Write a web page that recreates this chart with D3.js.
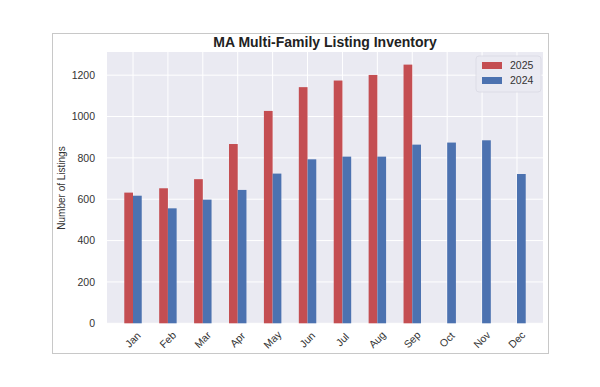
<!DOCTYPE html>
<html><head><meta charset="utf-8">
<script src="https://cdn.jsdelivr.net/npm/d3@7"></script>
<style>body{margin:0;background:#fff;font-family:"Liberation Sans",Arial,sans-serif;}</style>
</head><body><svg id="c" width="600" height="387"></svg>
<script>
const months = ["Jan","Feb","Mar","Apr","May","Jun","Jul","Aug","Sep","Oct","Nov","Dec"];
const values2025 = [632,653,697,867,1027,1142,1174,1201,1251,null,null,null];
const values2024 = [617,556,598,645,724,793,806,806,864,874,885,722];
const seriesNames = ["2025","2024"];
const seriesColors = ["#C44E52","#4C72B0"];
const yTicks = [0,200,400,600,800,1000,1200];

const svg = d3.select("#c");
// outer frame
svg.append("rect").attr("x",52.5).attr("y",33.5).attr("width",496).attr("height",320)
  .attr("fill","#fff").attr("stroke","#c8c8c8");

const L=107,R=543,T=52,B=323.3;
const x = d3.scaleLinear().domain([-0.745,11.745]).range([L,R]);
const y = d3.scaleLinear().domain([0,1312]).range([B,T]);

svg.append("rect").attr("x",L).attr("y",T).attr("width",R-L).attr("height",B-T).attr("fill","#EAEAF2");

// grid
svg.append("g").selectAll("line").data(yTicks).join("line")
  .attr("x1",L).attr("x2",R).attr("y1",d=>y(d)).attr("y2",d=>y(d))
  .attr("stroke","#fff").attr("stroke-width",1);
svg.append("g").selectAll("line").data(months).join("line")
  .attr("x1",(d,i)=>x(i)).attr("x2",(d,i)=>x(i)).attr("y1",T).attr("y2",B)
  .attr("stroke","#fff").attr("stroke-width",1);

const bw = x(0.25)-x(0);
const g = svg.append("g");
g.selectAll(".r").data(values2025.map((v,i)=>({v,i})).filter(d=>d.v!=null)).join("rect")
  .attr("x",d=>x(d.i-0.25)).attr("width",bw).attr("y",d=>y(d.v)).attr("height",d=>y(0)-y(d.v))
  .attr("fill",seriesColors[0]);
g.selectAll(".b").data(values2024.map((v,i)=>({v,i}))).join("rect")
  .attr("x",d=>x(d.i)).attr("width",bw).attr("y",d=>y(d.v)).attr("height",d=>y(0)-y(d.v))
  .attr("fill",seriesColors[1]);

// y axis labels
const ya = d3.axisLeft(y).tickValues(yTicks).tickFormat(d3.format("d")).tickSize(0).tickPadding(12);
const yg = svg.append("g").attr("transform",`translate(${L},0)`).call(ya);
yg.select(".domain").remove();
yg.selectAll("text").attr("font-size",10.5).attr("fill","#333").attr("font-family","Liberation Sans, Arial, sans-serif");

// x labels
const xa = d3.axisBottom(x).tickValues(d3.range(12)).tickFormat(i=>months[i]).tickSize(0).tickPadding(0);
const xg = svg.append("g").attr("transform",`translate(0,${B})`).call(xa);
xg.select(".domain").remove();
xg.selectAll("text").attr("font-size",10.5).attr("fill","#333").attr("font-family","Liberation Sans, Arial, sans-serif")
  .attr("text-anchor","middle").attr("dy",null).attr("y",0)
  .attr("transform","translate(0,17) rotate(-45)").attr("dominant-baseline","middle");

// y label
svg.append("text").attr("transform","translate(65,188) rotate(-90)").attr("text-anchor","middle")
  .attr("font-size",10).attr("fill","#333").text("Number of Listings");

// title
svg.append("text").attr("x",(L+R)/2).attr("y",47).attr("text-anchor","middle")
  .attr("font-size",14).attr("font-weight","bold").attr("fill","#222").text("MA Multi-Family Listing Inventory");

// legend
const lg = svg.append("g").attr("transform","translate(476,56)");
lg.append("rect").attr("width",65).attr("height",36).attr("rx",3).attr("fill","#EAEAF2").attr("stroke","#dcdce6").attr("opacity",0.9);
seriesNames.forEach((n,i)=>{
  lg.append("rect").attr("x",6).attr("y",6+i*15).attr("width",20).attr("height",7).attr("fill",seriesColors[i]);
  lg.append("text").attr("x",34).attr("y",13+i*15).attr("font-size",10.5).attr("fill","#333").text(n);
});
</script></body></html>
